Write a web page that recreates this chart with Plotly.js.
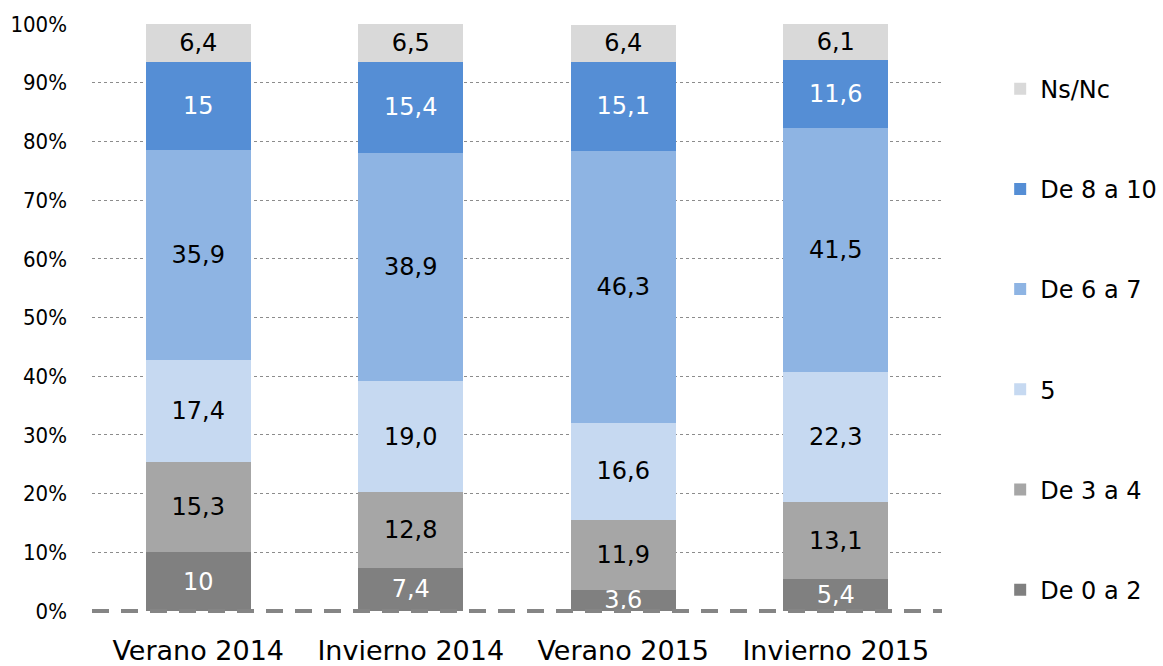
<!DOCTYPE html>
<html>
<head>
<meta charset="utf-8">
<script src="https://cdn.plot.ly/plotly-3.0.1.min.js"></script>
<style>html,body{margin:0;padding:0;background:#fff;}</style>
</head>
<body>
<div id="chart" style="width:1163px;height:666px;"></div>
<script>
const categories = ["Verano 2014", "Invierno 2014", "Verano 2015", "Invierno 2015"];
// value labels as printed in the chart (comma decimals)
const de0a2 = ["10", "7,4", "3,6", "5,4"];
const de3a4 = ["15,3", "12,8", "11,9", "13,1"];
const cinco = ["17,4", "19,0", "16,6", "22,3"];
const de6a7 = ["35,9", "38,9", "46,3", "41,5"];
const de8a10 = ["15", "15,4", "15,1", "11,6"];
const nsnc = ["6,4", "6,5", "6,4", "6,1"];
const seriesNames = ["De 0 a 2", "De 3 a 4", "5", "De 6 a 7", "De 8 a 10", "Ns/Nc"];
const seriesValues = [de0a2, de3a4, cinco, de6a7, de8a10, nsnc];
const seriesColors = ["#808080", "#a6a6a6", "#c6d9f1", "#8eb4e3", "#558ed5", "#d9d9d9"];
const textColors = ["#ffffff", "#000000", "#000000", "#000000", "#ffffff", "#000000"];
const yTickVals = [0, 10, 20, 30, 40, 50, 60, 70, 80, 90, 100];
const yTickText = ["0%", "10%", "20%", "30%", "40%", "50%", "60%", "70%", "80%", "90%", "100%"];

const toNum = s => parseFloat(s.replace(",", "."));
const FONT = "DejaVu Sans, sans-serif";
const FONT_C = "DejaVu Sans Condensed, DejaVu Sans, sans-serif";

const traces = seriesNames.map((name, i) => ({
  type: "bar",
  name: name,
  x: categories,
  y: seriesValues[i].map(toNum),
  text: seriesValues[i],
  texttemplate: "%{text}",
  textposition: "inside",
  insidetextanchor: "middle",
  textangle: 0,
  textfont: {family: FONT, size: 24, color: textColors[i]},
  marker: {color: seriesColors[i], line: {width: 0}},
  legendgroup: "g" + i,
  legendrank: 1000 - i,
  hoverinfo: "skip"
}));

const layout = {
  width: 1163, height: 666,
  barmode: "stack",
  bargap: 0.505,
  margin: {l: 92, r: 221, t: 24, b: 55, autoexpand: false},
  paper_bgcolor: "#ffffff",
  plot_bgcolor: "#ffffff",
  font: {family: FONT, color: "#000000"},
  uniformtext: {minsize: 24, mode: "show"},
  xaxis: {
    type: "category",
    showgrid: false,
    showline: false,
    ticks: "",
    tickfont: {family: FONT, size: 27, color: "#000"},
    zeroline: false,
    ticklabelstandoff: 21
  },
  yaxis: {
    range: [0, 100],
    tickvals: yTickVals,
    ticktext: yTickText,
    tickfont: {family: FONT_C, size: 22, color: "#000"},
    showgrid: true,
    gridcolor: "#8c8c8c",
    griddash: "dot",
    gridwidth: 1,
    zeroline: false,
    showline: false,
    ticks: "",
    ticklabelstandoff: 24
  },
  shapes: [{
    type: "line", xref: "paper", yref: "paper",
    x0: 0, x1: 1, y0: 0, y1: 0,
    line: {color: "#858585", width: 4, dash: "17px,12px"},
    layer: "above"
  }],
  legend: {
    xref: "container", yref: "container",
    x: 0.8600, xanchor: "left",
    y: 0.9000, yanchor: "top",
    maxheight: 660,
    traceorder: "grouped",
    tracegroupgap: 66,
    font: {family: FONT, size: 24, color: "#000"},
    bgcolor: "rgba(0,0,0,0)"
  },
  showlegend: true
};

Plotly.newPlot("chart", traces, layout, {displayModeBar: false, staticPlot: true});
</script>
</body>
</html>
